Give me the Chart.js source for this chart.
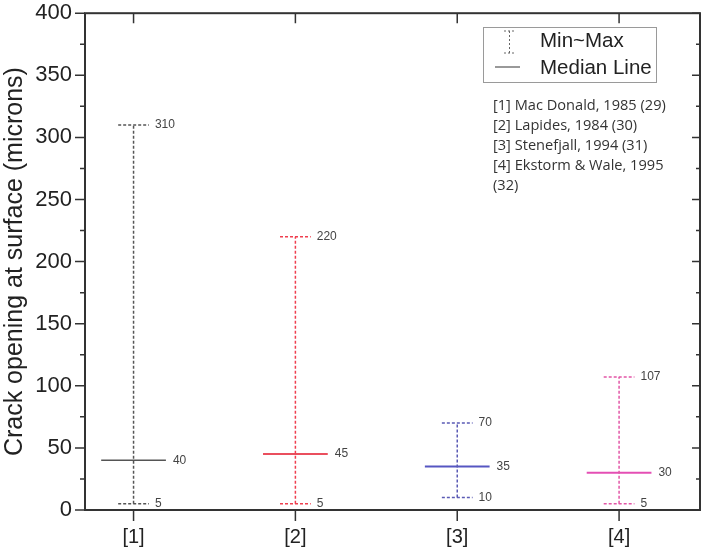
<!DOCTYPE html>
<html>
<head>
<meta charset="utf-8">
<script src="https://cdn.jsdelivr.net/npm/chart.js@4.4.1/dist/chart.umd.min.js"></script>
<style>
  html, body { margin: 0; padding: 0; background: #fff; }
  #wrap { width: 706px; height: 550px; position: relative; }
</style>
</head>
<body>
<div id="wrap"><canvas id="crackChart" width="706" height="550"></canvas></div>
<script>
// data
const categories = ['[1]', '[2]', '[3]', '[4]'];
const minValues = [5, 5, 10, 5];
const maxValues = [310, 220, 70, 107];
const medianValues = [40, 45, 35, 30];
const yTicks = [0, 50, 100, 150, 200, 250, 300, 350, 400];
const references = [
    '[1] Mac Donald, 1985 (29)',
    '[2] Lapides, 1984 (30)',
    '[3] Stenefjall, 1994 (31)',
    '[4] Ekstorm & Wale, 1995',
    '(32)'
];

const rangeColors = ['#555555', '#ef3f4f', '#5b5bb5', '#e256a6'];
const medianColors = ['#555555', '#ea4f5e', '#5656c2', '#e44fb4'];

const CAP = 0.095;
const MED = 0.2;

const datasets = [];
categories.forEach((c, i) => {
    const x = i + 1;
    // vertical range line
    datasets.push({
        data: [{ x: x, y: minValues[i] }, { x: x, y: maxValues[i] }],
        borderColor: rangeColors[i], borderWidth: 1.5, borderDash: [3, 2]
    });
    // caps
    datasets.push({
        data: [{ x: x - CAP, y: maxValues[i] }, { x: x + CAP, y: maxValues[i] }],
        borderColor: rangeColors[i], borderWidth: 1.5, borderDash: [3, 2]
    });
    datasets.push({
        data: [{ x: x - CAP, y: minValues[i] }, { x: x + CAP, y: minValues[i] }],
        borderColor: rangeColors[i], borderWidth: 1.5, borderDash: [3, 2]
    });
    // median line
    datasets.push({
        data: [{ x: x - MED, y: medianValues[i] }, { x: x + MED, y: medianValues[i] }],
        borderColor: medianColors[i], borderWidth: i === 0 ? 1.5 : 2
    });
});

// frame, ticks, value labels, legend box
const decorations = {
    id: 'decorations',
    afterDatasetsDraw(chart) {
        const ctx = chart.ctx;
        const a = chart.chartArea;
        const xs = chart.scales.x, ys = chart.scales.y;
        ctx.save();
        ctx.strokeStyle = '#333';
        ctx.lineWidth = 2;
        ctx.strokeRect(a.left, a.top, a.right - a.left, a.bottom - a.top);

        ctx.lineWidth = 1.5;
        for (let v = 0; v <= 400; v += 25) {
            const y = ys.getPixelForValue(v);
            const len = v % 50 === 0 ? 10 : 5;
            ctx.beginPath();
            ctx.moveTo(a.left - len, y); ctx.lineTo(a.left, y);
            ctx.moveTo(a.right, y); ctx.lineTo(a.right - (v % 50 === 0 ? 8 : 4), y);
            ctx.stroke();
        }
        categories.forEach((c, i) => {
            const x = xs.getPixelForValue(i + 1);
            ctx.beginPath();
            ctx.moveTo(x, a.bottom); ctx.lineTo(x, a.bottom + 11);
            ctx.moveTo(x, a.top); ctx.lineTo(x, a.top + 10);
            ctx.stroke();
        });

        // value labels
        ctx.fillStyle = '#444';
        ctx.font = '12px "Liberation Sans", Arial, sans-serif';
        ctx.textBaseline = 'middle';
        ctx.textAlign = 'left';
        categories.forEach((c, i) => {
            const x = i + 1;
            const capEnd = xs.getPixelForValue(x + CAP) + 6;
            const medEnd = xs.getPixelForValue(x + MED) + 7;
            ctx.fillText(String(maxValues[i]), capEnd, ys.getPixelForValue(maxValues[i]));
            ctx.fillText(String(minValues[i]), capEnd, ys.getPixelForValue(minValues[i]));
            ctx.fillText(String(medianValues[i]), medEnd, ys.getPixelForValue(medianValues[i]));
        });

        // legend box
        ctx.strokeStyle = '#9a9a9a';
        ctx.lineWidth = 1;
        ctx.strokeRect(483.5, 27.5, 173, 55);
        ctx.strokeStyle = '#666';
        ctx.setLineDash([2, 2]);
        ctx.beginPath();
        ctx.moveTo(504, 31); ctx.lineTo(515, 31);
        ctx.moveTo(509.5, 31); ctx.lineTo(509.5, 53);
        ctx.moveTo(504, 53); ctx.lineTo(515, 53);
        ctx.stroke();
        ctx.setLineDash([]);
        ctx.strokeStyle = '#555';
        ctx.lineWidth = 1.2;
        ctx.beginPath();
        ctx.moveTo(495, 67); ctx.lineTo(520, 67);
        ctx.stroke();
        ctx.fillStyle = '#222';
        ctx.font = '20.5px "Liberation Sans", Arial, sans-serif';
        ctx.fillText('Min~Max', 540, 41);
        ctx.fillText('Median Line', 540, 68);

        // reference list
        ctx.fillStyle = '#333';
        ctx.font = '14.6px "Open Sans", sans-serif';
        references.forEach((r, i) => {
            ctx.fillText(r, 493, 106 + i * 20);
        });
        ctx.restore();
    }
};

new Chart(document.getElementById('crackChart'), {
    type: 'scatter',
    data: { datasets: datasets },
    options: {
        responsive: false,
        animation: false,
        devicePixelRatio: 1,
        showLine: true,
        elements: { point: { radius: 0, hoverRadius: 0 }, line: { tension: 0 } },
        layout: { padding: { top: 0, right: 6, left: 0, bottom: 0 } },
        plugins: { legend: { display: false }, tooltip: { enabled: false } },
        scales: {
            x: {
                type: 'linear',
                min: 0.7,
                max: 4.5,
                grid: { display: false, drawTicks: false },
                border: { display: false },
                afterBuildTicks: s => { s.ticks = categories.map((c, i) => ({ value: i + 1 })); },
                afterFit: s => { s.height = 40; },
                ticks: {
                    autoSkip: false,
                    maxRotation: 0,
                    padding: 15,
                    color: '#222',
                    font: { family: '"Liberation Sans", Arial, sans-serif', size: 20 },
                    callback: v => categories[Math.round(v) - 1]
                }
            },
            y: {
                min: 0,
                max: 400,
                // tick marks are drawn by the plugin; tickLength only spaces the labels
                grid: { display: false, drawTicks: true, tickLength: 13 },
                border: { display: false },
                afterBuildTicks: s => { s.ticks = yTicks.map(v => ({ value: v })); },
                afterFit: s => { s.width = 85; },
                ticks: {
                    padding: 0,
                    color: '#222',
                    font: { family: '"Liberation Sans", Arial, sans-serif', size: 22 }
                },
                title: {
                    display: true,
                    text: 'Crack opening at surface (microns)',
                    color: '#222',
                    padding: { top: 0, bottom: 0 },
                    font: { family: '"Liberation Sans", Arial, sans-serif', size: 25 }
                }
            }
        }
    },
    plugins: [decorations]
});
</script>
</body>
</html>
